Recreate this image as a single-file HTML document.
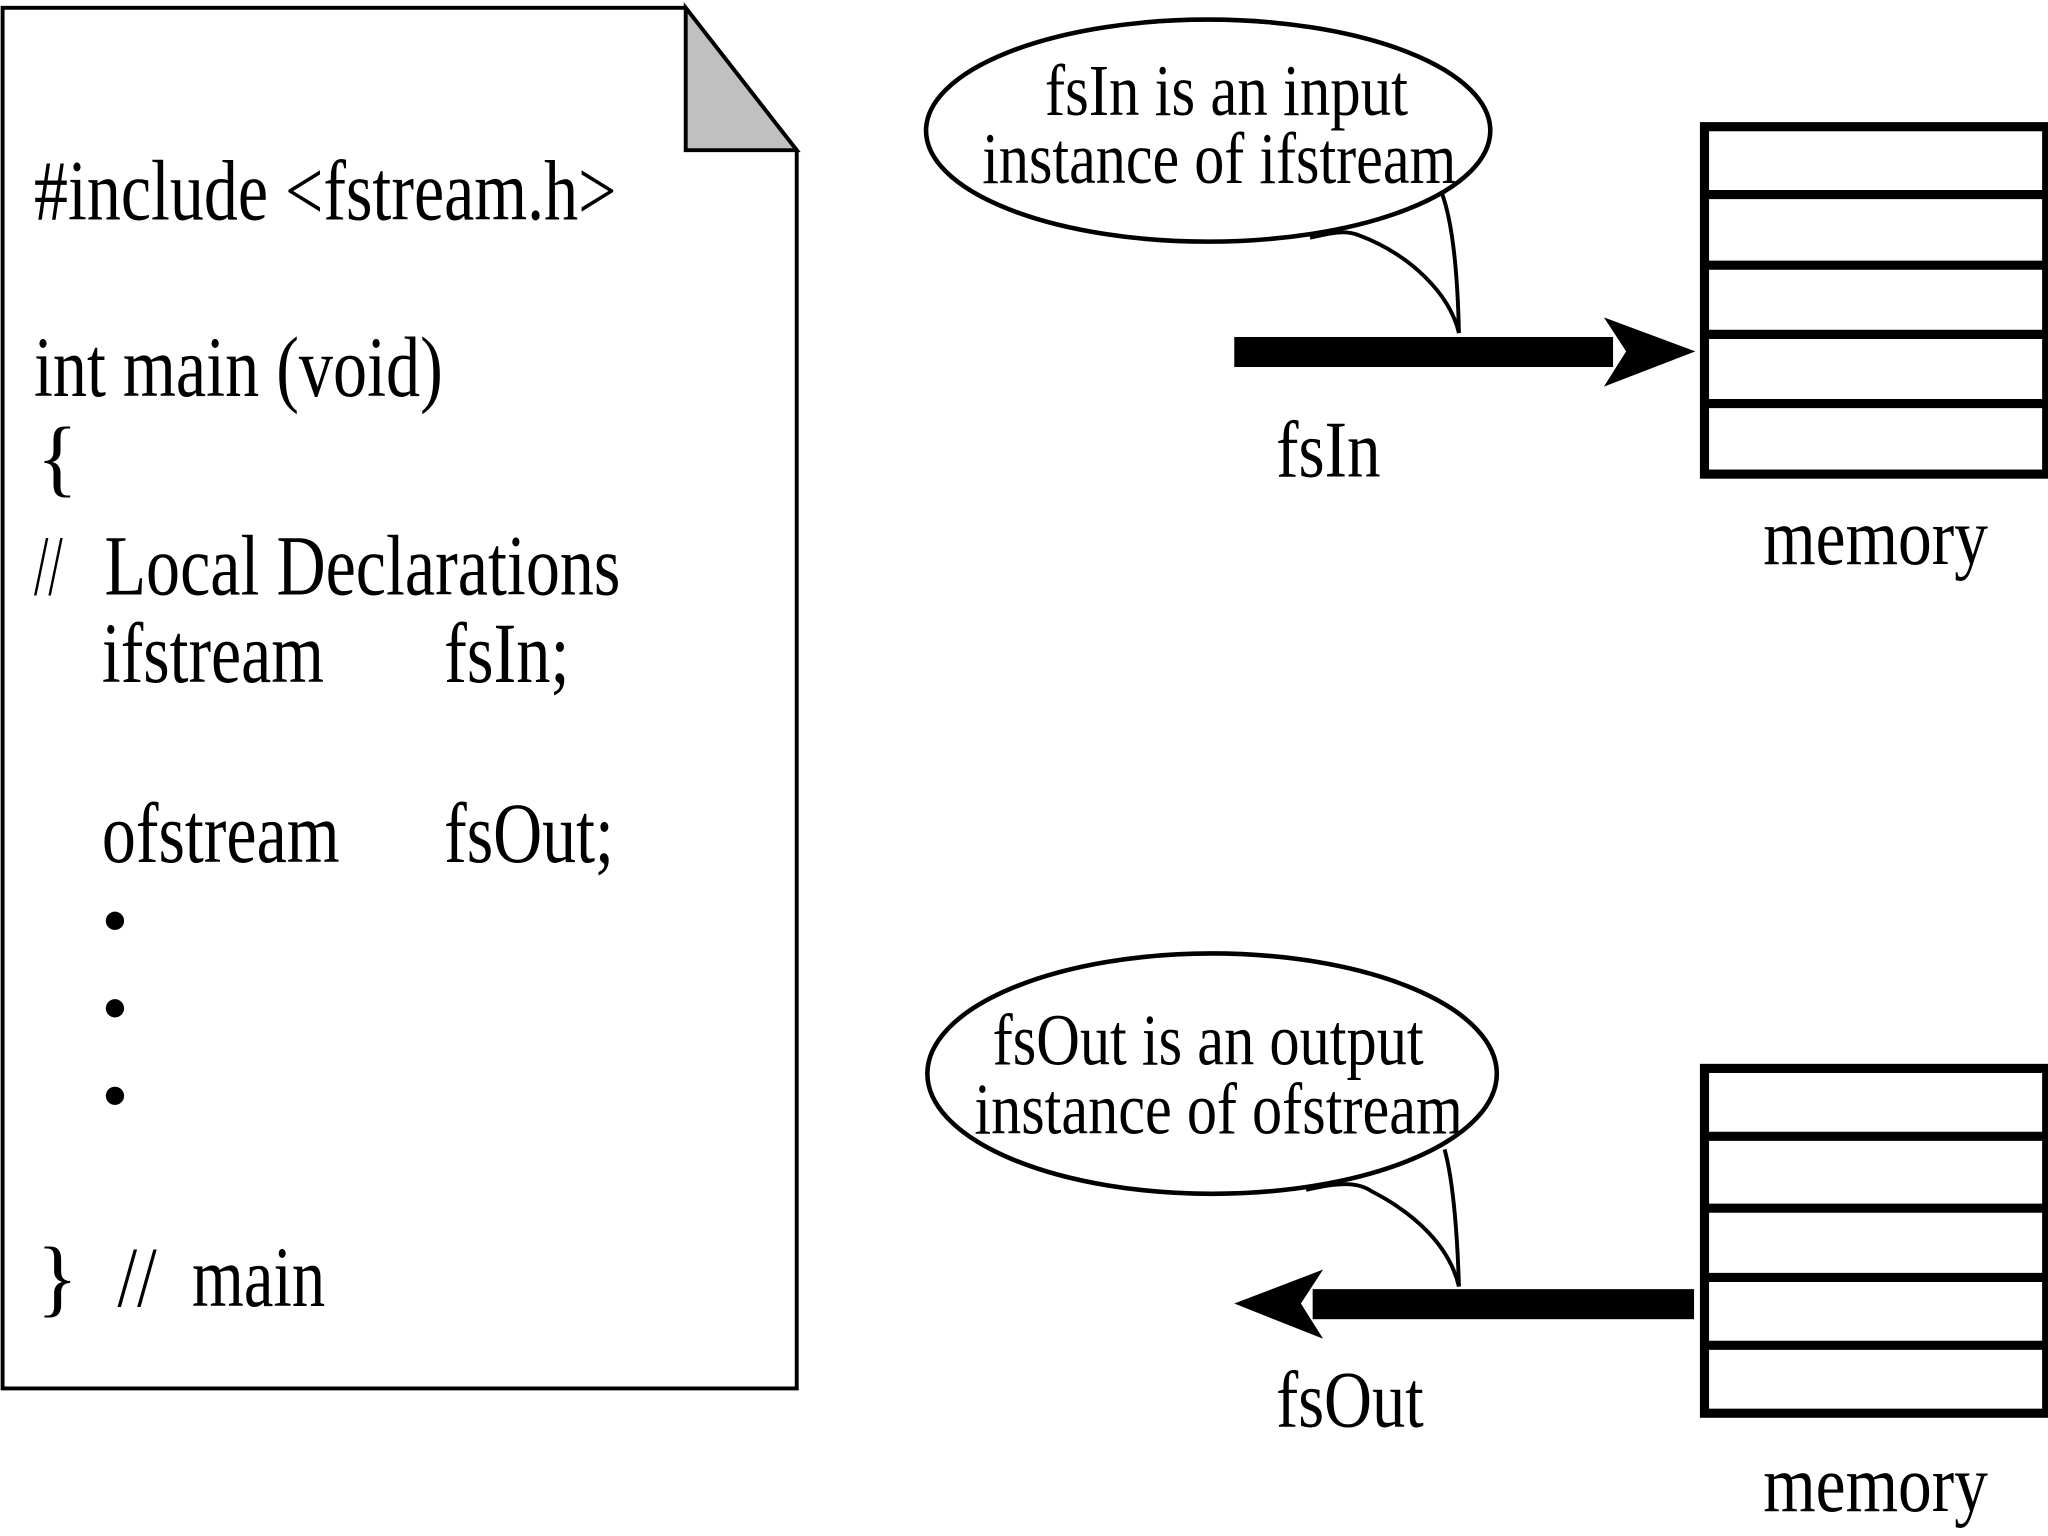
<!DOCTYPE html>
<html><head><meta charset="utf-8"><style>html,body{margin:0;padding:0;background:#fff}svg{display:block}</style></head>
<body>
<svg width="2048" height="1536" viewBox="0 0 1568 1176" xmlns="http://www.w3.org/2000/svg" font-family="'Liberation Serif', serif" fill="#000">
<rect width="1568" height="1176" fill="#fff"/>
<!-- document -->
<polygon points="2,6 525,6 610,115 610,1063 2,1063" fill="#fff" stroke="#000" stroke-width="3"/>
<polygon points="525,6 525,115 610,115" fill="#c0c0c0" stroke="#000" stroke-width="3"/>
<g font-size="66">
<text x="26" y="168" textLength="446" lengthAdjust="spacingAndGlyphs">#include &lt;fstream.h&gt;</text>
<text x="26" y="303" textLength="313" lengthAdjust="spacingAndGlyphs">int main (void)</text>
<text x="28" y="372">{</text>
<text x="26" y="455" textLength="22" lengthAdjust="spacingAndGlyphs">//</text>
<text x="80" y="455" textLength="395" lengthAdjust="spacingAndGlyphs">Local Declarations</text>
<text x="78" y="522" textLength="170" lengthAdjust="spacingAndGlyphs">ifstream</text>
<text x="340" y="522" textLength="96" lengthAdjust="spacingAndGlyphs">fsIn;</text>
<text x="78" y="660" textLength="182" lengthAdjust="spacingAndGlyphs">ofstream</text>
<text x="340" y="660" textLength="130" lengthAdjust="spacingAndGlyphs">fsOut;</text>
<text x="28" y="1000">}</text>
<text x="90" y="1000" textLength="30" lengthAdjust="spacingAndGlyphs">//</text>
<text x="147" y="1000" textLength="102" lengthAdjust="spacingAndGlyphs">main</text>
</g>
<circle cx="88" cy="705" r="7"/>
<circle cx="88" cy="772" r="7"/>
<circle cx="88" cy="839" r="7"/>

<!-- bubble 1 -->
<ellipse cx="925" cy="100" rx="216" ry="85" fill="#fff" stroke="#000" stroke-width="3.5"/>
<path d="M1003,182 C1020,178 1030,176 1040,180 C1080,195 1110,225 1117,255" fill="none" stroke="#000" stroke-width="3"/>
<path d="M1104,148 C1112,170 1116,210 1117,255" fill="none" stroke="#000" stroke-width="3"/>
<g font-size="56" text-anchor="start">
<text x="800" y="88" textLength="278" lengthAdjust="spacingAndGlyphs">fsIn is an input</text>
<text x="752" y="140" textLength="363" lengthAdjust="spacingAndGlyphs">instance of ifstream</text>
</g>
<!-- arrow 1 -->
<rect x="945" y="258" width="290" height="23"/>
<path d="M1228,243 L1298,269 L1228,296 L1245,269 Z"/>
<text x="977" y="365" font-size="62" textLength="80" lengthAdjust="spacingAndGlyphs">fsIn</text>
<!-- memory 1 -->
<g fill="none" stroke="#000" stroke-width="7">
<rect x="1305" y="97" width="262" height="266"/>
<line x1="1305" y1="149" x2="1567" y2="149"/>
<line x1="1305" y1="203" x2="1567" y2="203"/>
<line x1="1305" y1="256" x2="1567" y2="256"/>
<line x1="1305" y1="309" x2="1567" y2="309"/>
</g>
<text x="1350" y="432" font-size="62" textLength="172" lengthAdjust="spacingAndGlyphs">memory</text>

<!-- bubble 2 -->
<ellipse cx="928" cy="822" rx="218" ry="92" fill="#fff" stroke="#000" stroke-width="3.5"/>
<path d="M1000,911 C1025,905 1040,905 1050,912 C1085,930 1110,955 1117,985" fill="none" stroke="#000" stroke-width="3"/>
<path d="M1106,880 C1113,905 1116,950 1117,985" fill="none" stroke="#000" stroke-width="3"/>
<g font-size="56">
<text x="760" y="815" textLength="330" lengthAdjust="spacingAndGlyphs">fsOut is an output</text>
<text x="746" y="868" textLength="374" lengthAdjust="spacingAndGlyphs">instance of ofstream</text>
</g>
<!-- arrow 2 -->
<rect x="1005" y="987" width="292" height="23"/>
<path d="M1013,972 L945,998 L1013,1025 L996,998 Z"/>
<text x="977" y="1092" font-size="62" textLength="113" lengthAdjust="spacingAndGlyphs">fsOut</text>
<!-- memory 2 -->
<g fill="none" stroke="#000" stroke-width="7">
<rect x="1305" y="818" width="262" height="264"/>
<line x1="1305" y1="870" x2="1567" y2="870"/>
<line x1="1305" y1="925" x2="1567" y2="925"/>
<line x1="1305" y1="978" x2="1567" y2="978"/>
<line x1="1305" y1="1030" x2="1567" y2="1030"/>
</g>
<text x="1350" y="1157" font-size="62" textLength="172" lengthAdjust="spacingAndGlyphs">memory</text>
</svg>
</body></html>
